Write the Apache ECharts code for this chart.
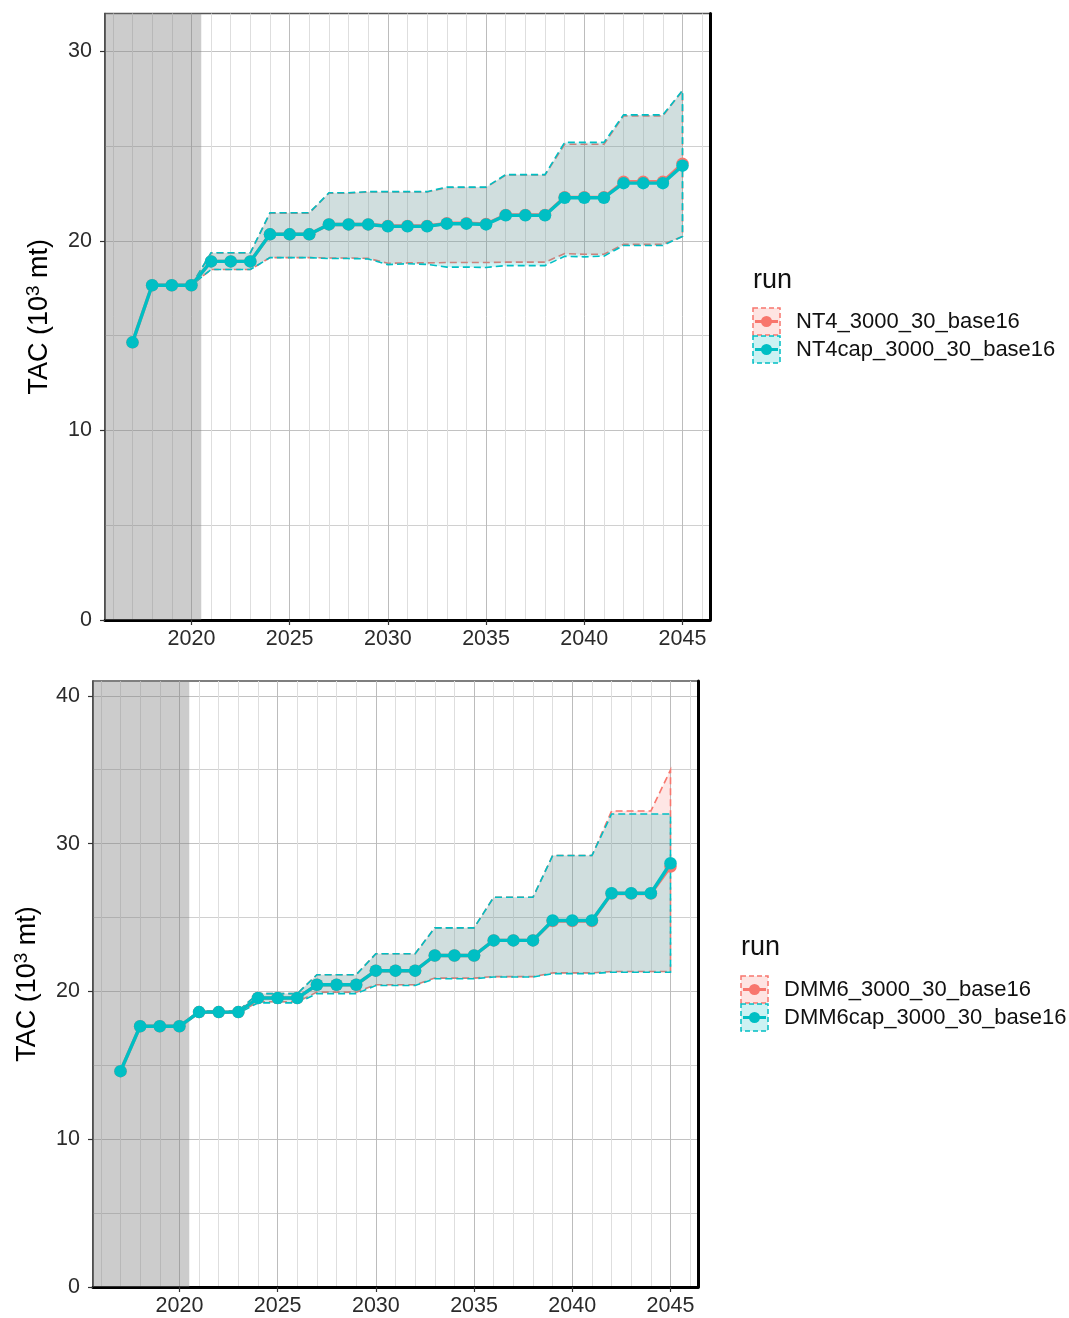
<!DOCTYPE html>
<html>
<head>
<meta charset="utf-8">
<script src="https://cdn.jsdelivr.net/npm/echarts@6/dist/echarts.min.js"></script>
<style>
  html, body { margin: 0; padding: 0; background: #fff; }
  #chart { width: 1069px; height: 1318px; }
</style>
</head>
<body>
<div id="chart"></div>
<script>
// ---- data ----
const years = [2017, 2018, 2019, 2020, 2021, 2022, 2023, 2024, 2025, 2026,
  2027, 2028, 2029, 2030, 2031, 2032, 2033, 2034, 2035, 2036,
  2037, 2038, 2039, 2040, 2041, 2042, 2043, 2044, 2045];

// Top panel runs
const runsTop = ['NT4_3000_30_base16', 'NT4cap_3000_30_base16'];
const nt4Median = [14.65, 17.66, 17.66, 17.66, 18.92, 18.92, 18.92, 20.35, 20.35, 20.35,
  20.87, 20.87, 20.87, 20.79, 20.79, 20.79, 20.93, 20.93, 20.89, 21.37,
  21.37, 21.37, 22.30, 22.30, 22.30, 23.12, 23.12, 23.12, 24.07];
const nt4Lower = [14.65, 17.66, 17.66, 17.66, 18.49, 18.49, 18.49, 19.12, 19.12, 19.12,
  19.10, 19.10, 19.08, 18.82, 18.84, 18.84, 18.86, 18.86, 18.86, 18.88,
  18.88, 18.88, 19.33, 19.30, 19.30, 19.82, 19.82, 19.82, 20.24];
const nt4Upper = [14.65, 17.66, 17.66, 17.66, 19.36, 19.36, 19.36, 21.47, 21.47, 21.47,
  22.52, 22.52, 22.58, 22.58, 22.58, 22.58, 22.82, 22.82, 22.82, 23.48,
  23.48, 23.48, 25.10, 25.10, 25.10, 26.60, 26.60, 26.60, 27.92];
const nt4capMedian = [14.65, 17.66, 17.66, 17.66, 18.92, 18.92, 18.92, 20.35, 20.35, 20.35,
  20.87, 20.87, 20.87, 20.77, 20.77, 20.77, 20.91, 20.91, 20.87, 21.35,
  21.35, 21.35, 22.28, 22.28, 22.28, 23.05, 23.05, 23.05, 23.97];
const nt4capLower = [14.65, 17.66, 17.66, 17.66, 18.49, 18.49, 18.49, 19.12, 19.12, 19.12,
  19.07, 19.07, 19.05, 18.75, 18.80, 18.76, 18.62, 18.62, 18.60, 18.70,
  18.70, 18.70, 19.19, 19.16, 19.20, 19.76, 19.76, 19.76, 20.24];
const nt4capUpper = [14.65, 17.66, 17.66, 17.66, 19.38, 19.38, 19.38, 21.49, 21.49, 21.49,
  22.54, 22.54, 22.60, 22.60, 22.60, 22.60, 22.84, 22.84, 22.84, 23.50,
  23.50, 23.50, 25.20, 25.20, 25.20, 26.65, 26.65, 26.65, 27.94];

// Bottom panel runs
const runsBottom = ['DMM6_3000_30_base16', 'DMM6cap_3000_30_base16'];
const dmm6Median = [14.60, 17.64, 17.64, 17.64, 18.60, 18.60, 18.60, 19.55, 19.55, 19.55,
  20.45, 20.45, 20.45, 21.40, 21.40, 21.40, 22.43, 22.43, 22.43, 23.45,
  23.45, 23.45, 24.76, 24.76, 24.76, 26.62, 26.62, 26.62, 28.45];
const dmm6Lower = [14.60, 17.64, 17.64, 17.64, 18.54, 18.54, 18.54, 19.30, 19.30, 19.30,
  19.95, 19.95, 19.95, 20.45, 20.45, 20.45, 20.90, 20.90, 20.90, 21.00,
  21.00, 21.00, 21.25, 21.25, 21.25, 21.35, 21.35, 21.35, 21.35];
const dmm6Upper = [14.60, 17.64, 17.64, 17.64, 18.68, 18.68, 18.68, 19.85, 19.85, 19.85,
  21.13, 21.13, 21.13, 22.55, 22.55, 22.55, 24.30, 24.30, 24.30, 26.37,
  26.37, 26.37, 29.19, 29.19, 29.19, 32.20, 32.20, 32.20, 34.98];
const dmm6capMedian = [14.60, 17.64, 17.64, 17.64, 18.60, 18.60, 18.60, 19.55, 19.55, 19.55,
  20.45, 20.45, 20.45, 21.40, 21.40, 21.40, 22.43, 22.43, 22.43, 23.45,
  23.45, 23.45, 24.80, 24.80, 24.80, 26.64, 26.64, 26.64, 28.67];
const dmm6capLower = [14.60, 17.64, 17.64, 17.64, 18.52, 18.52, 18.52, 19.22, 19.22, 19.22,
  19.85, 19.85, 19.85, 20.40, 20.40, 20.40, 20.86, 20.86, 20.86, 20.97,
  20.97, 20.97, 21.20, 21.20, 21.20, 21.30, 21.30, 21.30, 21.30];
const dmm6capUpper = [14.60, 17.64, 17.64, 17.64, 18.68, 18.68, 18.68, 19.85, 19.85, 19.85,
  21.13, 21.13, 21.13, 22.55, 22.55, 22.55, 24.30, 24.30, 24.30, 26.37,
  26.37, 26.37, 29.19, 29.19, 29.19, 32.00, 32.00, 32.00, 32.00];

// Axis ticks
const xMajorTicks = [2020, 2025, 2030, 2035, 2040, 2045];
const xMinorTicks = [2016, 2017, 2018, 2019, 2021, 2022, 2023, 2024, 2026, 2027, 2028, 2029,
  2031, 2032, 2033, 2034, 2036, 2037, 2038, 2039, 2041, 2042, 2043, 2044, 2046];
const yMajorTop = [0, 10, 20, 30];
const yMinorTop = [5, 15, 25];
const yMajorBottom = [0, 10, 20, 30, 40];
const yMinorBottom = [5, 15, 25, 35];
const historicalEnd = 2020.5;   // end of the shaded historical period

// ---- styling ----
const FONT = 'Liberation Sans, Arial, Helvetica, sans-serif';
const RED = '#F8766D';
const CYAN = '#00BFC4';
const X_MIN = 2015.6, X_MAX = 2046.4;

function hexAlpha(hex, a) {
  const n = parseInt(hex.slice(1), 16);
  return 'rgba(' + (n >> 16 & 255) + ',' + (n >> 8 & 255) + ',' + (n & 255) + ',' + a + ')';
}

const panels = [
  { left: 105, top: 13.5, width: 605, height: 606.5, yMax: 32,
    yMajor: yMajorTop, yMinor: yMinorTop,
    runs: runsTop,
    med: [nt4Median, nt4capMedian], lo: [nt4Lower, nt4capLower], hi: [nt4Upper, nt4capUpper],
    legendX: 753, legendTitleY: 281, legendKeyY: [308, 336], legendTextX: 796 },
  { left: 93, top: 681, width: 605, height: 606, yMax: 41,
    yMajor: yMajorBottom, yMinor: yMinorBottom,
    runs: runsBottom,
    med: [dmm6Median, dmm6capMedian], lo: [dmm6Lower, dmm6capLower], hi: [dmm6Upper, dmm6capUpper],
    legendX: 741, legendTitleY: 948, legendKeyY: [976, 1004], legendTextX: 784 }
];
const colors = [RED, CYAN];

const grids = [], xAxes = [], yAxes = [], series = [], graphics = [];

panels.forEach((p, g) => {
  grids.push({
    left: p.left, top: p.top, width: p.width, height: p.height,
    show: true, borderColor: '#555', borderWidth: 1.5, backgroundColor: 'transparent'
  });
  // major x axis (labels, ticks, major grid)
  xAxes.push({
    type: 'value', gridIndex: g, min: X_MIN, max: X_MAX, position: 'bottom',
    axisLine: { show: true, onZero: false, lineStyle: { color: '#000', width: 3 } },
    axisTick: { show: true, customValues: xMajorTicks, length: 5, lineStyle: { color: '#333', width: 1.2 } },
    axisLabel: { customValues: xMajorTicks, fontSize: 21.5, color: '#2b2b2b', margin: 8, fontFamily: FONT,
      formatter: v => String(v) },
    splitLine: { show: true, lineStyle: { color: '#bcbcbc', width: 1 } }
  });
  // minor x axis (yearly grid only)
  xAxes.push({
    type: 'value', gridIndex: g, min: X_MIN, max: X_MAX, position: 'top',
    axisLine: { show: false }, axisLabel: { show: false },
    axisTick: { show: false, customValues: xMinorTicks },
    splitLine: { show: true, lineStyle: { color: '#dedede', width: 1 } }
  });
  // major y axis
  yAxes.push({
    type: 'value', gridIndex: g, min: 0, max: p.yMax, position: 'left',
    axisLine: { show: true, onZero: false, lineStyle: { color: '#444', width: 1.6 } },
    axisTick: { show: true, customValues: p.yMajor, length: 5, lineStyle: { color: '#333', width: 1.2 } },
    axisLabel: { customValues: p.yMajor, fontSize: 21.5, color: '#2b2b2b', margin: 13, fontFamily: FONT },
    splitLine: { show: true, lineStyle: { color: '#c2c2c2', width: 1 } }
  });
  // minor y axis, also carries the heavy right border
  yAxes.push({
    type: 'value', gridIndex: g, min: 0, max: p.yMax, position: 'right',
    axisLine: { show: true, onZero: false, lineStyle: { color: '#000', width: 3 } },
    axisLabel: { show: false },
    axisTick: { show: false, customValues: p.yMinor },
    splitLine: { show: true, lineStyle: { color: '#d0d0d0', width: 1 } }
  });

  const xi = g * 2, yi = g * 2;

  // shaded historical period
  series.push({
    type: 'line', xAxisIndex: xi, yAxisIndex: yi, data: [], z: 1, silent: true,
    markArea: {
      silent: true,
      itemStyle: { color: 'rgba(128,128,128,0.4)', borderWidth: 0 },
      data: [[{ xAxis: X_MIN }, { xAxis: historicalEnd }]]
    }
  });

  // uncertainty ribbons, drawn as closed polygons with dashed outlines
  [0, 1].forEach(r => {
    const lo = p.lo[r], hi = p.hi[r], col = colors[r];
    series.push({
      type: 'custom', name: p.runs[r], xAxisIndex: xi, yAxisIndex: yi, z: 2 + r * 0.1,
      silent: true,
      data: years.map((y, i) => [y, lo[i], hi[i]]),
      encode: { x: 0, y: [1, 2] },
      renderItem: function (params, api) {
        if (params.dataIndex !== 0) return null;
        const pts = [];
        years.forEach((y, i) => pts.push(api.coord([y, hi[i]])));
        for (let i = years.length - 1; i >= 0; i--) pts.push(api.coord([years[i], lo[i]]));
        return {
          type: 'polygon',
          shape: { points: pts },
          style: { fill: hexAlpha(col, 0.18), stroke: col, lineWidth: 1.6, lineDash: [7, 4] }
        };
      }
    });
  });

  // median lines with points
  [0, 1].forEach(r => {
    series.push({
      type: 'line', name: p.runs[r], xAxisIndex: xi, yAxisIndex: yi, z: 3 + r * 0.1,
      data: years.map((y, i) => [y, p.med[r][i]]),
      symbol: 'circle', symbolSize: 12.5, showSymbol: true,
      lineStyle: { color: colors[r], width: 3.4 },
      itemStyle: { color: colors[r] },
      silent: true
    });
  });

  // y axis title with superscript exponent
  graphics.push({
    type: 'text', x: p.left - 65, y: p.top + p.height / 2, rotation: Math.PI / 2,
    style: {
      text: '{m|TAC (10}{s|3}{m| mt)}',
      rich: {
        m: { fontSize: 27, fontFamily: FONT, fill: '#000', lineHeight: 32 },
        s: { fontSize: 19, fontFamily: FONT, fill: '#000', lineHeight: 19, verticalAlign: 'top' }
      },
      align: 'center', verticalAlign: 'middle'
    }
  });

  // legend
  graphics.push({
    type: 'text', x: p.legendX, y: p.legendTitleY,
    style: { text: 'run', font: '27px ' + FONT, fill: '#111', align: 'left', verticalAlign: 'middle' }
  });
  [0, 1].forEach(r => {
    const ky = p.legendKeyY[r], kx = p.legendX, s = 27;
    graphics.push({
      type: 'rect', shape: { x: kx, y: ky, width: s, height: s },
      style: { fill: hexAlpha(colors[r], 0.2), stroke: colors[r], lineWidth: 1.5, lineDash: [5, 3] }
    });
    graphics.push({
      type: 'line', shape: { x1: kx + 2, y1: ky + s / 2, x2: kx + s - 2, y2: ky + s / 2 },
      style: { stroke: colors[r], lineWidth: 3 }
    });
    graphics.push({
      type: 'circle', shape: { cx: kx + s / 2, cy: ky + s / 2, r: 5.5 },
      style: { fill: colors[r] }
    });
    graphics.push({
      type: 'text', x: p.legendTextX, y: ky + s / 2,
      style: { text: p.runs[r], font: '22px ' + FONT, fill: '#111', align: 'left', verticalAlign: 'middle' }
    });
  });
});

const chart = echarts.init(document.getElementById('chart'), null, { renderer: 'canvas' });
chart.setOption({
  animation: false,
  backgroundColor: '#fff',
  grid: grids,
  xAxis: xAxes,
  yAxis: yAxes,
  series: series,
  graphic: graphics
});
</script>
</body>
</html>
